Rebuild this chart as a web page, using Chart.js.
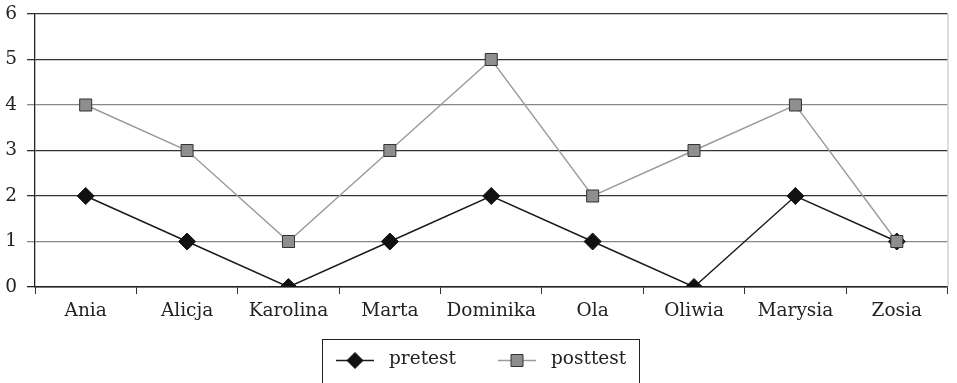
<!DOCTYPE html>
<html>
<head>
<meta charset="utf-8">
<script src="https://cdn.jsdelivr.net/npm/chart.js@4.4.0/dist/chart.umd.min.js"></script>
<style>
  html, body { margin: 0; padding: 0; background: #fff; }
  #wrap { width: 957px; height: 383px; }
</style>
</head>
<body>
<div id="wrap"><canvas id="chart" width="957" height="383"></canvas></div>
<script>
const names = ['Ania', 'Alicja', 'Karolina', 'Marta', 'Dominika', 'Ola', 'Oliwia', 'Marysia', 'Zosia'];
const pretest = [2, 1, 0, 1, 2, 1, 0, 2, 1];
const posttest = [4, 3, 1, 3, 5, 2, 3, 4, 1];
const seriesNames = ['pretest', 'posttest'];

const font = { family: '"DejaVu Serif", serif', size: 18.5 };
const gridColors = ['#222', '#888', '#333', '#333', '#888', '#333', '#333'];

// right border + legend box, drawn by hand
const extras = {
  id: 'extras',
  afterDraw(chart) {
    const ctx = chart.ctx;
    const a = chart.chartArea;
    ctx.save();
    ctx.strokeStyle = '#bbb';
    ctx.lineWidth = 1;
    ctx.beginPath();
    ctx.moveTo(a.right + 0.5, a.top);
    ctx.lineTo(a.right + 0.5, a.bottom);
    ctx.stroke();

    ctx.strokeStyle = '#222';
    ctx.strokeRect(322.5, 339.5, 317, 60);

    const items = chart.data.datasets.map(ds => ds);
    const xs = [336, 498];
    items.sort((p, q) => seriesNames.indexOf(p.label) - seriesNames.indexOf(q.label));
    items.forEach((ds, i) => {
      const x0 = xs[i], y = 360.5;
      ctx.strokeStyle = ds.borderColor;
      ctx.lineWidth = 1.5;
      ctx.beginPath();
      ctx.moveTo(x0, y);
      ctx.lineTo(x0 + 38, y);
      ctx.stroke();
      const cx = x0 + 19;
      ctx.fillStyle = ds.pointBackgroundColor;
      ctx.strokeStyle = ds.pointBorderColor;
      ctx.lineWidth = 1;
      ctx.beginPath();
      if (ds.pointStyle === 'rectRot') {
        ctx.moveTo(cx, y - 8);
        ctx.lineTo(cx + 8, y);
        ctx.lineTo(cx, y + 8);
        ctx.lineTo(cx - 8, y);
        ctx.closePath();
      } else {
        ctx.rect(cx - 6, y - 6, 12, 12);
      }
      ctx.fill();
      ctx.stroke();
      ctx.fillStyle = '#222';
      ctx.font = '18.5px ' + font.family;
      ctx.textBaseline = 'middle';
      ctx.fillText(ds.label, x0 + 53, y - 1);
    });
    ctx.restore();
  }
};

new Chart(document.getElementById('chart').getContext('2d'), {
  type: 'line',
  data: {
    labels: names,
    datasets: [
      {
        label: seriesNames[1],
        data: posttest,
        order: 0,
        borderColor: '#9a9a9a',
        borderWidth: 1.4,
        pointStyle: 'rect',
        pointRadius: 8.5,
        pointBackgroundColor: '#8e8e8e',
        pointBorderColor: '#333',
        pointBorderWidth: 1,
        fill: false,
        tension: 0
      },
      {
        label: seriesNames[0],
        data: pretest,
        order: 1,
        borderColor: '#1a1a1a',
        borderWidth: 1.4,
        pointStyle: 'rectRot',
        pointRadius: 8.5,
        pointBackgroundColor: '#111',
        pointBorderColor: '#111',
        pointBorderWidth: 1,
        fill: false,
        tension: 0
      }
    ]
  },
  options: {
    responsive: false,
    animation: false,
    layout: { padding: { top: 14, right: 1, bottom: 44, left: 0 } },
    plugins: { legend: { display: false }, tooltip: { enabled: false } },
    scales: {
      x: {
        offset: true,
        afterFit: s => { s.height = 52; s.paddingLeft = 0; s.paddingRight = 0; },
        grid: { offset: true, drawOnChartArea: false, drawTicks: true, tickLength: 7, color: '#333' },
        border: { color: '#222', width: 1.5 },
        ticks: { font: font, color: '#222', padding: 6, maxRotation: 0, autoSkip: false }
      },
      y: {
        min: 0,
        max: 6,
        afterFit: s => { s.width = 35; s.paddingTop = 0; s.paddingBottom = 0; },
        grid: { color: ctx => gridColors[ctx.index] || '#333', lineWidth: 1.3, tickLength: 8 },
        border: { color: '#222', width: 1.3 },
        ticks: { stepSize: 1, font: font, color: '#222', padding: 10 }
      }
    }
  },
  plugins: [extras]
});
</script>
</body>
</html>
